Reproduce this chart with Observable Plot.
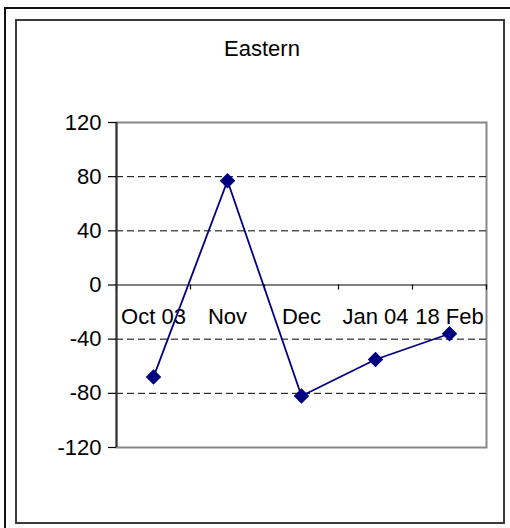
<!DOCTYPE html>
<html>
<head>
<meta charset="utf-8">
<script src="https://cdn.jsdelivr.net/npm/d3@7"></script>
<script src="https://cdn.jsdelivr.net/npm/@observablehq/plot@0.6"></script>
<style>
  html, body { margin: 0; padding: 0; background: #fff; }
  #wrap { position: relative; width: 510px; height: 528px; overflow: hidden; font-family: "Liberation Sans", Arial, sans-serif; }
  #outer { position: absolute; left: 4px; top: 7px; width: 520px; height: 540px; border-left: 2px solid #111; border-top: 2px solid #111; box-sizing: border-box; }
  #inner { position: absolute; left: 15px; top: 19px; width: 490px; height: 505px; border: 2px solid #3a3a3a; box-sizing: border-box; }
  #title { position: absolute; left: 162px; width: 200px; top: 38px; text-align: center; font-size: 22px; line-height: 22px; color: #000; }
  #chart { position: absolute; left: 0; top: 0; }
</style>
</head>
<body>
<div id="wrap">
  <div id="outer"></div>
  <div id="inner"></div>
  <div id="title">Eastern</div>
  <div id="chart"></div>
</div>
<script>
const categories = ["Oct 03", "Nov", "Dec", "Jan 04", "18 Feb"];
const values = [-68, 77, -82, -55, -36];
const yTicks = [-120, -80, -40, 0, 40, 80, 120];
const gridValues = [-80, -40, 40, 80];

const data = categories.map((c, i) => ({cat: c, idx: i + 0.5, value: values[i]}));
const bounds = d3.range(0, categories.length + 1);

const chart = Plot.plot({
  width: 510,
  height: 528,
  marginLeft: 116,
  marginRight: 24,
  marginTop: 122,
  marginBottom: 81,
  style: {background: "transparent", fontFamily: "'Liberation Sans', Arial, sans-serif", fontSize: "22px", color: "#000"},
  x: {domain: [0, categories.length], axis: null},
  y: {domain: [-120, 120], axis: null},
  marks: [
    Plot.frame({stroke: "#888", strokeWidth: 2}),
    Plot.ruleY(gridValues, {stroke: "#000", strokeWidth: 1, strokeDasharray: "7,4"}),
    Plot.ruleY([0], {stroke: "#000", strokeWidth: 1.2}),
    Plot.ruleX(bounds, {x: d => d, y1: 0, y2: 0, insetBottom: -5, stroke: "#000", strokeWidth: 1.2}),
    Plot.ruleX([0], {stroke: "#333", strokeWidth: 2}),
    Plot.axisY({ticks: yTicks, tickFormat: d => String(d), label: null, tickSize: 8, tickPadding: 7, fontSize: 22, stroke: "#000", strokeWidth: 1.2}),
    Plot.text(data, {x: "idx", y: () => 0, text: "cat", dy: 32, fontSize: 22, fill: "#000"}),
    Plot.line(data, {x: "idx", y: "value", stroke: "#000080", strokeWidth: 1.8}),
    Plot.dot(data, {x: "idx", y: "value", symbol: "diamond2", r: 7, fill: "#000080", stroke: "none"})
  ]
});
document.getElementById("chart").appendChild(chart);
</script>
</body>
</html>
